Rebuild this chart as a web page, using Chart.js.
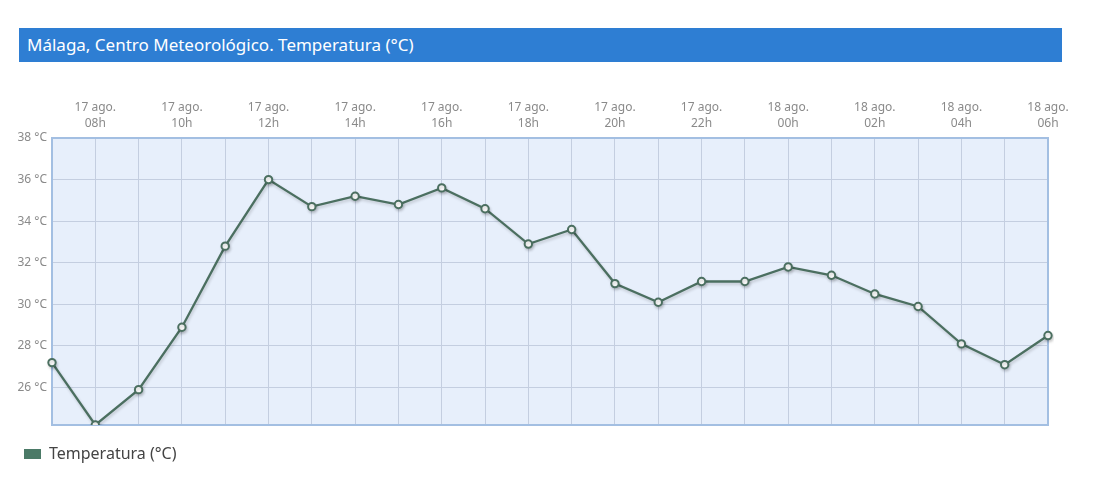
<!DOCTYPE html>
<html>
<head>
<meta charset="utf-8">
<style>
  body { margin: 0; background: #fff; font-family: "Noto Sans", sans-serif; }
  #wrap { position: relative; width: 1100px; height: 499px; }
  #titulo {
    position: absolute; left: 19px; top: 28px; width: 1035px; height: 34px;
    background: #2e7ed3; color: #fff; font-size: 17px; line-height: 34px; padding-left: 8px;
  }
  canvas { position: absolute; left: 0; top: 0; }
</style>
</head>
<body>
<div id="wrap">
  <div id="titulo">Málaga, Centro Meteorológico. Temperatura (°C)</div>
  <canvas id="grafico" width="1100" height="499"></canvas>
</div>

<script src="https://cdn.jsdelivr.net/npm/chart.js"></script>
<script>
  // fechas y horas de cada medida
  const dias = ['17 ago.','17 ago.','17 ago.','17 ago.','17 ago.','17 ago.','17 ago.','17 ago.','17 ago.','17 ago.','17 ago.','17 ago.',
                '17 ago.','17 ago.','17 ago.','17 ago.','17 ago.','18 ago.','18 ago.','18 ago.','18 ago.','18 ago.','18 ago.','18 ago.'];
  const horas = ['07h','08h','09h','10h','11h','12h','13h','14h','15h','16h','17h','18h',
                 '19h','20h','21h','22h','23h','00h','01h','02h','03h','04h','05h','06h'];
  const temperatura = [27.2, 24.2, 25.9, 28.9, 32.8, 36.0, 34.7, 35.2, 34.8, 35.6, 34.6, 32.9,
                       33.6, 31.0, 30.1, 31.1, 31.1, 31.8, 31.4, 30.5, 29.9, 28.1, 27.1, 28.5];
  const ticksY = [26, 28, 30, 32, 34, 36, 38];

  const labels = horas.map((h, i) => [dias[i], h]);

  // fondo y borde del area de datos
  const fondo = {
    id: 'fondo',
    beforeDraw(chart) {
      const a = chart.chartArea, ctx = chart.ctx;
      ctx.save();
      ctx.fillStyle = '#e7effb';
      ctx.fillRect(a.left, a.top, a.right - a.left, a.bottom - a.top);
      ctx.restore();
    },
    beforeDatasetsDraw(chart) {
      const a = chart.chartArea, ctx = chart.ctx;
      ctx.save();
      ctx.strokeStyle = '#a3bfe2';
      ctx.lineWidth = 2;
      ctx.strokeRect(a.left, a.top, a.right - a.left, a.bottom - a.top);
      ctx.restore();
    },
    beforeDatasetDraw(chart) {
      const ctx = chart.ctx;
      ctx.save();
      ctx.shadowColor = 'rgba(0,0,0,0.18)';
      ctx.shadowOffsetX = 1;
      ctx.shadowOffsetY = 2;
      ctx.shadowBlur = 3;
    },
    afterDatasetDraw(chart) {
      chart.ctx.restore();
    }
  };

  new Chart(document.getElementById('grafico').getContext('2d'), {
    type: 'line',
    data: {
      labels,
      datasets: [{
        label: 'Temperatura (°C)',
        data: temperatura,
        borderColor: '#4b6f60',
        backgroundColor: '#4b7a67',
        borderWidth: 2.3,
        tension: 0,
        pointRadius: 3.7,
        pointBorderWidth: 2,
        pointBackgroundColor: '#ffffff',
        pointBorderColor: '#4b6f60'
      }]
    },
    options: {
      responsive: false,
      animation: false,
      layout: { padding: { left: 3, right: 52, top: 92, bottom: 27 } },
      plugins: {
        legend: {
          position: 'bottom',
          align: 'start',
          labels: {
            color: '#444',
            font: { family: 'Noto Sans', size: 16 },
            boxWidth: 17,
            boxHeight: 10,
            padding: 21,
            generateLabels(chart) {
              const ds = chart.data.datasets[0];
              return [{ text: ds.label, fillStyle: ds.backgroundColor, strokeStyle: ds.backgroundColor, lineWidth: 0, fontColor: '#444' }];
            }
          }
        },
        tooltip: { enabled: false }
      },
      scales: {
        x: {
          position: 'top',
          offset: false,
          grid: { color: '#c4cee0', drawTicks: false },
          border: { display: false },
          ticks: {
            autoSkip: false,
            maxRotation: 0,
            padding: 6,
            color: '#8a8a8a',
            font: { family: 'Noto Sans', size: 12, lineHeight: 1.35 },
            callback(v, i) { return i % 2 === 1 ? labels[i] : ''; }
          },
          afterFit(scale) { scale.height = 46; }
        },
        y: {
          min: 24.2,
          max: 38,
          grid: { color: '#c4cee0', drawTicks: false },
          border: { display: false },
          afterBuildTicks(scale) { scale.ticks = ticksY.map(v => ({ value: v })); },
          ticks: {
            padding: 5,
            color: '#8a8a8a',
            font: { family: 'Noto Sans', size: 12 },
            callback(v) { return v + ' °C'; }
          },
          afterFit(scale) { scale.width = 49; }
        }
      }
    },
    plugins: [fondo]
  });
</script>
</body>
</html>
